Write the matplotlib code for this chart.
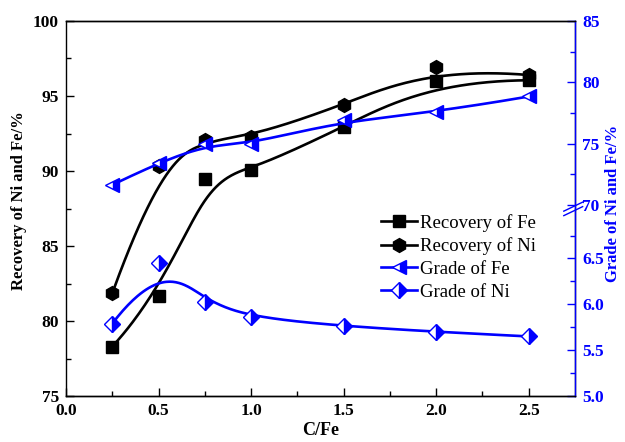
import numpy as np
import matplotlib.pyplot as plt
from matplotlib.lines import Line2D

plt.rcParams['font.family'] = ['Liberation Serif', 'DejaVu Serif']

# data
cfe = [0.25, 0.5, 0.75, 1.0, 1.5, 2.0, 2.5]
rec_fe = [78.3, 81.65, 89.5, 90.05, 92.95, 96.0, 96.05]
rec_ni = [81.85, 90.35, 92.1, 92.3, 94.4, 96.9, 96.4]
grade_fe = [71.65, 73.45, 74.95, 74.95, 76.95, 77.55, 78.85]
grade_ni = [5.79, 6.45, 6.03, 5.86, 5.76, 5.70, 5.65]

right_ticks = [5.0, 5.5, 6.0, 6.5, 70, 75, 80, 85]
right_labels = ['5.0', '5.5', '6.0', '6.5', '70', '75', '80', '85']
right_minor = [5.25, 5.75, 6.25, 6.75, 72.5, 77.5, 82.5]

BLUE = '#0000ff'

# broken right axis: 5-7 on the lower part, 70-85 on the upper part
LO_TOP, HI_BOT = 0.489, 0.509


def fwd(v):
    v = np.asarray(v, dtype=float)
    lo = (v - 5) / 2 * LO_TOP
    mid = LO_TOP + (v - 7) / 63 * (HI_BOT - LO_TOP)
    hi = HI_BOT + (v - 70) / 15 * (1 - HI_BOT)
    return np.where(v <= 7, lo, np.where(v < 70, mid, hi))


def inv(u):
    u = np.asarray(u, dtype=float)
    lo = 5 + u / LO_TOP * 2
    mid = 7 + (u - LO_TOP) / (HI_BOT - LO_TOP) * 63
    hi = 70 + (u - HI_BOT) / (1 - HI_BOT) * 15
    return np.where(u <= LO_TOP, lo, np.where(u < HI_BOT, mid, hi))


def bspline(xs, ys, k=3, n=300):
    # clamped B-spline with the data as control points (Origin style line)
    P = np.column_stack([xs, ys])
    m = len(P)
    knots = np.concatenate([np.zeros(k), np.linspace(0, 1, m - k + 1), np.ones(k)])
    t = np.linspace(0, 1 - 1e-9, n)
    B = np.array([(t >= knots[i]) & (t < knots[i + 1]) for i in range(len(knots) - 1)], float).T
    for d in range(1, k + 1):
        Bn = np.zeros((n, len(knots) - 1 - d))
        for i in range(len(knots) - 1 - d):
            a = knots[i + d] - knots[i]
            b = knots[i + d + 1] - knots[i + 1]
            term = np.zeros(n)
            if a > 0:
                term += (t - knots[i]) / a * B[:, i]
            if b > 0:
                term += (knots[i + d + 1] - t) / b * B[:, i + 1]
            Bn[:, i] = term
        B = Bn
    C = B @ P
    return C[:, 0], C[:, 1]


fig = plt.figure(figsize=(6.25, 4.42), dpi=100)
ax = fig.add_axes([0.1056, 0.104, 0.8144, 0.8485])
ax2 = ax.twinx()

lw = 1.9
ms = 9

# recovery curves
x, y = bspline(cfe, rec_fe)
ax.plot(x, y, color='k', lw=lw)
ax.plot(cfe, rec_fe, ls='none', marker='s', ms=ms, color='k')
x, y = bspline(cfe, rec_ni)
ax.plot(x, y, color='k', lw=lw)
ax.plot(cfe, rec_ni, ls='none', marker='h', ms=ms + 1, color='k')

# grade curves
ax2.set_yscale('function', functions=(fwd, inv))
x, y = bspline(cfe, grade_fe)
ax2.plot(x, y, color=BLUE, lw=lw)
ax2.plot(cfe, grade_fe, ls='none', marker='<', ms=ms + 1, color=BLUE,
         fillstyle='right', markerfacecoloralt='white', markeredgecolor=BLUE)
x, y = bspline(cfe, grade_ni)
ax2.plot(x, y, color=BLUE, lw=lw)
ax2.plot(cfe, grade_ni, ls='none', marker='D', ms=ms - 1, color=BLUE,
         fillstyle='right', markerfacecoloralt='white', markeredgecolor=BLUE)

ax.set_xlim(0, 2.75)
ax.set_ylim(75, 100)
ax.set_xticks([0, 0.5, 1.0, 1.5, 2.0, 2.5])
ax.set_xticks(np.arange(0.25, 2.75, 0.5), minor=True)
ax.set_xticklabels(['0.0', '0.5', '1.0', '1.5', '2.0', '2.5'])
ax.set_yticks([75, 80, 85, 90, 95, 100])
ax.set_yticks([77.5, 82.5, 87.5, 92.5, 97.5], minor=True)

ax2.set_ylim(5, 85)
ax2.set_yticks(right_ticks)
ax2.set_yticklabels(right_labels)
ax2.set_yticks(right_minor, minor=True)

for a in (ax, ax2):
    for s in a.spines.values():
        s.set_linewidth(1.0)
ax.tick_params(which='both', direction='in', top=False, right=False, width=1.0,
               labelsize=12.5, pad=5)
ax.tick_params(which='major', length=6)
ax.tick_params(which='minor', length=3.5)
ax2.tick_params(which='both', direction='in', colors=BLUE, width=1.0, labelsize=12.5, pad=5)
ax2.tick_params(which='major', length=6)
ax2.tick_params(which='minor', length=3.5)
ax2.spines['right'].set_color(BLUE)
ax2.spines['left'].set_visible(False)

for lab in ax.get_xticklabels() + ax.get_yticklabels() + ax2.get_yticklabels():
    lab.set_fontweight('bold')

ax.set_xlabel('C/Fe', fontsize=13, fontweight='bold', labelpad=2)
ax.set_ylabel('Recovery of Ni and Fe/%', fontsize=12, fontweight='bold')
ax.yaxis.set_label_coords(-0.077, 0.52)
ax2.set_ylabel('Grade of Ni and Fe/%', fontsize=12, fontweight='bold', color=BLUE)
ax2.yaxis.set_label_coords(1.058, 0.513)

# axis break mark on the right axis
yb = (LO_TOP + HI_BOT) / 2
for dy in (-0.006, 0.006):
    ax2.plot([0.978, 1.015], [yb + dy - 0.012, yb + dy + 0.012], transform=ax2.transAxes,
             color=BLUE, lw=1.0, clip_on=False)

handles = [
    Line2D([], [], color='k', lw=lw, marker='s', ms=ms),
    Line2D([], [], color='k', lw=lw, marker='h', ms=ms + 1),
    Line2D([], [], color=BLUE, lw=lw, marker='<', ms=ms + 1, fillstyle='right',
           markerfacecoloralt='white', markeredgecolor=BLUE),
    Line2D([], [], color=BLUE, lw=lw, marker='D', ms=ms - 1, fillstyle='right',
           markerfacecoloralt='white', markeredgecolor=BLUE),
]
labels = ['Recovery of Fe', 'Recovery of Ni', 'Grade of Fe', 'Grade of Ni']
ax2.legend(handles, labels, loc='upper left', bbox_to_anchor=(0.605, 0.506), frameon=False,
           fontsize=13.5, handlelength=1.9, handletextpad=0.15, labelspacing=0.3,
           borderaxespad=0)

fig.savefig('out.png', dpi=100)
